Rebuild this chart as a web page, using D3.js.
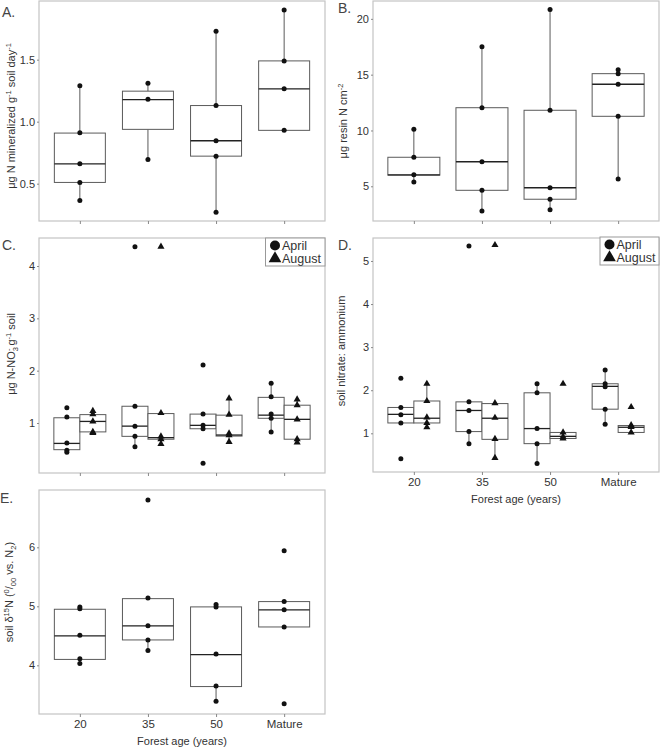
<!DOCTYPE html>
<html><head><meta charset="utf-8">
<script src="https://cdn.jsdelivr.net/npm/d3@7"></script>
<style>body{margin:0;background:#fff}svg{display:block;font-family:"Liberation Sans",Arial,sans-serif}</style>
</head><body><svg id="c" width="660" height="748"></svg>
<script>
const categories = ["20","35","50","Mature"];

// Panel A: net N mineralization. box = [q1, median, q3, whiskerLow, whiskerHigh]
const aPoints = [[1.29,0.91,0.66,0.51,0.365],[1.31,1.18,0.695],[1.73,1.13,0.846,0.722,0.27],[1.90,1.49,1.265,0.93]];
const aBoxes  = [[0.51,0.66,0.908,0.365,1.29],[0.938,1.178,1.246,0.695,1.31],[0.722,0.846,1.13,0.27,1.73],[0.93,1.265,1.49,0.93,1.90]];

// Panel B: resin N
const bPoints = [[10.1,7.6,6.04,5.39],[17.5,12.04,7.2,4.64,2.79],[20.83,11.81,4.87,3.84,2.9],[15.45,15.09,14.14,11.27,5.65]];
const bBoxes  = [[6.0,6.02,7.6,5.39,10.1],[4.64,7.2,12.04,2.79,17.5],[3.84,4.87,11.81,2.9,20.83],[11.27,14.14,15.09,5.65,15.45]];

// Panel C: nitrate, April & August
const cAprilPoints = [[1.29,1.115,0.617,0.478,0.44],[4.37,1.32,0.94,0.745,0.547],[2.11,1.17,0.955,0.89,0.23],[1.76,1.50,1.17,1.09,0.83]];
const cAprilBoxes  = [[0.49,0.61,1.10,0.49,1.10],[0.745,0.94,1.32,0.547,1.32],[0.89,0.955,1.17,0.89,1.17],[1.09,1.15,1.49,0.83,1.76]];
const cAugPoints   = [[1.23,1.17,1.03,0.83,0.81],[4.37,1.19,0.745,0.69,0.60],[1.47,1.16,0.80,0.765,0.64],[1.45,1.34,1.07,0.69,0.63]];
const cAugBoxes    = [[0.83,1.03,1.16,0.81,1.23],[0.69,0.72,1.18,0.60,1.18],[0.75,0.77,1.15,0.64,1.47],[0.69,1.07,1.34,0.63,1.45]];

// Panel D: nitrate:ammonium, April & August
const dAprilPoints = [[2.28,1.60,1.43,1.24,0.41],[5.35,1.73,1.53,1.04,0.76],[2.15,1.94,1.11,0.76,0.30],[2.47,2.15,2.08,1.56,1.21]];
const dAprilBoxes  = [[1.24,1.44,1.60,1.24,1.60],[1.04,1.53,1.73,0.76,1.73],[0.76,1.11,1.94,0.30,2.15],[1.56,2.09,2.15,1.21,2.47]];
const dAugPoints   = [[2.15,1.75,1.37,1.24,1.14],[5.37,1.70,1.36,0.87,0.43],[2.15,1.02,0.92,0.88],[1.61,1.19,1.15,1.02]];
const dAugBoxes    = [[1.24,1.35,1.75,1.14,2.15],[0.86,1.35,1.69,0.43,1.69],[0.88,0.93,1.02,0.88,1.02],[1.02,1.14,1.18,1.02,1.18]];

// Panel E: soil d15N
const ePoints = [[4.99,4.96,4.51,4.11,4.03],[6.80,5.14,4.67,4.43,4.25],[5.03,4.99,4.19,3.65,3.39],[5.94,5.08,4.94,4.65,3.35]];
const eBoxes  = [[4.1,4.5,4.95,4.03,4.99],[4.43,4.67,5.13,4.25,5.14],[3.64,4.18,4.99,3.39,5.03],[4.65,4.94,5.08,4.65,5.08]];

const yTicksA = [0.5,1.0,1.5], yTicksB = [5,10,15,20], yTicksC = [1,2,3,4], yTicksD = [1,2,3,4,5], yTicksE = [4,5,6];
const legendLabels = ["April","August"];

const svg = d3.select("#c");
const FRAME = "#c4c4c4", BOXC = "#5a5a5a", TXT = "#333";

function rich(sel, parts){
  let off = 0;
  parts.forEach(([t, type, extra]) => {
    const fs = type === "n" ? null : 7.5;
    const target = type === "sup" ? -4.5 : type === "sub" ? 3 : 0;
    const ts = sel.append("tspan").text(t).attr("dy", target - off);
    if (fs) ts.attr("font-size", fs);
    if (extra) ts.attr("dx", extra);
    off = target;
  });
}

function panel(o){
  const g = svg.append("g");
  const x = d3.scalePoint().domain(categories).range([o.x0, o.x1]).padding(0.6);
  const y = d3.scaleLinear().domain(o.domain).range([o.y1, o.y0]);
  g.append("rect").attr("x", o.x0).attr("y", o.y0).attr("width", o.x1 - o.x0).attr("height", o.y1 - o.y0)
    .attr("fill", "none").attr("stroke", FRAME).attr("stroke-width", 1.2);
  // y axis
  const ya = g.append("g").attr("transform", `translate(${o.x0},0)`)
    .call(d3.axisLeft(y).tickValues(o.ticks).tickSize(2).tickPadding(2).tickFormat(o.fmt));
  ya.select(".domain").remove();
  ya.selectAll("line").attr("stroke", "#888");
  ya.selectAll("text").attr("fill", TXT).attr("font-size", 11).attr("font-family", "Liberation Sans, Arial, sans-serif");
  // x axis
  const xa = g.append("g").attr("transform", `translate(0,${o.y1})`)
    .call(d3.axisBottom(x).tickSize(3).tickPadding(3).tickFormat(o.xlabels ? d => d : ""));
  xa.select(".domain").remove();
  xa.selectAll("line").attr("stroke", "#888");
  xa.selectAll("text").attr("fill", TXT).attr("font-size", 11.5).attr("font-family", "Liberation Sans, Arial, sans-serif");
  if (o.xlabels) {
    g.append("text").attr("x", (o.x0 + o.x1) / 2).attr("y", o.y1 + 31).attr("text-anchor", "middle")
      .attr("font-size", 11).attr("fill", TXT).text("Forest age (years)");
  }
  // series
  o.series.forEach(s => {
    const w = s.width;
    categories.forEach((c, i) => {
      const cx = x(c) + s.offset;
      const [q1, med, q3, lo, hi] = s.boxes[i];
      if (hi > q3) g.append("line").attr("x1", cx).attr("x2", cx).attr("y1", y(hi)).attr("y2", y(q3)).attr("stroke", BOXC).attr("stroke-width", 1);
      if (lo < q1) g.append("line").attr("x1", cx).attr("x2", cx).attr("y1", y(q1)).attr("y2", y(lo)).attr("stroke", BOXC).attr("stroke-width", 1);
      g.append("rect").attr("x", cx - w / 2).attr("y", y(q3)).attr("width", w).attr("height", y(q1) - y(q3))
        .attr("fill", "#fff").attr("stroke", BOXC).attr("stroke-width", 1);
      g.append("line").attr("x1", cx - w / 2).attr("x2", cx + w / 2).attr("y1", y(med)).attr("y2", y(med))
        .attr("stroke", "#222").attr("stroke-width", 1.3);
      s.points[i].forEach(v => {
        if (s.shape === "circle") g.append("circle").attr("cx", cx).attr("cy", y(v)).attr("r", 2.5).attr("fill", "#111");
        else g.append("path").attr("d", d3.symbol(d3.symbolTriangle, 22)()).attr("transform", `translate(${cx},${y(v)})`).attr("fill", "#111");
      });
    });
  });
  // y title
  const t = g.append("text").attr("transform", `translate(${o.tx},${o.ty}) rotate(-90)`).attr("text-anchor", "middle")
    .attr("font-size", 11).attr("fill", TXT);
  rich(t, o.title);
  // letter
  g.append("text").attr("x", o.lx).attr("y", o.ly).attr("font-size", 14).attr("fill", "#444").text(o.letter);
  if (o.legend) {
    const L = o.legend;
    g.append("rect").attr("x", L.x).attr("y", L.y).attr("width", L.w).attr("height", L.h).attr("fill", "#fff").attr("stroke", "#999").attr("stroke-width", 1);
    g.append("circle").attr("cx", L.x + 9.5).attr("cy", L.y + 7.5).attr("r", 5).attr("fill", "#111");
    g.append("path").attr("d", d3.symbol(d3.symbolTriangle, 70)()).attr("transform", `translate(${L.x + 9.5},${L.y + 20.5})`).attr("fill", "#111");
    legendLabels.forEach((lab, k) => g.append("text").attr("x", L.x + 16.5).attr("y", L.y + 12 + k * 13.3)
      .attr("font-size", 12.5).attr("fill", TXT).text(lab));
  }
}

const mu = "\u03bcg";
panel({x0:39,x1:325,y0:1,y1:221,domain:[0.199,1.973],ticks:yTicksA,fmt:d3.format(".1f"),
  series:[{points:aPoints,boxes:aBoxes,shape:"circle",offset:0,width:51}],
  title:[[mu+" N mineralized g","n"],["-1","sup"],[" soil day","n"],["-1","sup"]],tx:15,ty:116,letter:"A.",lx:2,ly:17});
panel({x0:373,x1:659,y0:1,y1:221,domain:[1.89,21.6],ticks:yTicksB,fmt:d3.format("d"),
  series:[{points:bPoints,boxes:bBoxes,shape:"circle",offset:0,width:52}],
  title:[[mu+" resin N cm","n"],["-2","sup"]],tx:347,ty:121,letter:"B.",lx:338,ly:13});
panel({x0:39,x1:325,y0:238,y1:473,domain:[0.0445,4.535],ticks:yTicksC,fmt:d3.format("d"),
  series:[{points:cAprilPoints,boxes:cAprilBoxes,shape:"circle",offset:-13,width:26},
          {points:cAugPoints,boxes:cAugBoxes,shape:"triangle",offset:13,width:26}],
  title:[[mu+" N-NO","n"],["3","sub"],["-","sup",-4],[" g","n"],["-1","sup"],[" soil","n"]],tx:15,ty:354,letter:"C.",lx:2,ly:250,
  legend:{x:265.5,y:238,w:59.5,h:28}});
panel({x0:373,x1:659,y0:238,y1:472,domain:[0.102,5.533],ticks:yTicksD,fmt:d3.format("d"),xlabels:true,
  series:[{points:dAprilPoints,boxes:dAprilBoxes,shape:"circle",offset:-13,width:26},
          {points:dAugPoints,boxes:dAugBoxes,shape:"triangle",offset:13,width:26}],
  title:[["soil nitrate: ammonium","n"]],tx:345,ty:351,letter:"D.",lx:338,ly:250,
  legend:{x:600,y:237,w:59,h:28}});
panel({x0:39,x1:325,y0:490,y1:714,domain:[3.175,6.971],ticks:yTicksE,fmt:d3.format("d"),xlabels:true,
  series:[{points:ePoints,boxes:eBoxes,shape:"circle",offset:0,width:51}],
  title:[["soil \u03b4","n"],["15","sup"],["N (","n"],["0","sup"],["/","n"],["00","sub"],[" vs. N","n"],["2","sub"],[")","n"]],
  tx:13,ty:592,letter:"E.",lx:0,ly:503});
</script></body></html>
